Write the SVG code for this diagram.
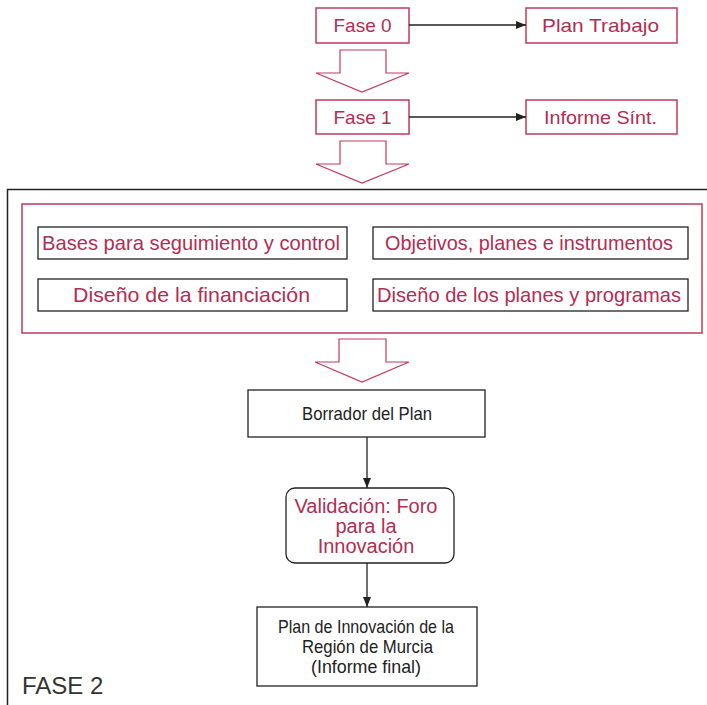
<svg xmlns="http://www.w3.org/2000/svg" width="707" height="705" viewBox="0 0 707 705">
<style>
.pk{fill:#fff;stroke:#c23a5c;stroke-width:1.5}
.bk{fill:#fff;stroke:#222;stroke-width:1.3}
.ba{fill:#fff;stroke:#c23a5c;stroke-width:1.2}
.t1{font-family:"Liberation Sans",Arial,sans-serif;font-size:19px;fill:#b32d52;text-anchor:middle}
.t2{font-family:"Liberation Sans",Arial,sans-serif;font-size:20px;fill:#b32d52;text-anchor:middle}
.tn{font-family:"Liberation Sans",Arial,sans-serif;font-size:21px;fill:#b32d52;text-anchor:middle}
.tb{font-family:"Liberation Sans",Arial,sans-serif;font-size:19px;fill:#222;text-anchor:middle}
.ln{stroke:#222;stroke-width:1.3;fill:none}
</style>
<defs>
<marker id="ah" markerWidth="10" markerHeight="8" refX="10" refY="4" orient="auto" markerUnits="userSpaceOnUse">
<path d="M0,0 L10,4 L0,8 Z" fill="#222"/>
</marker>
</defs>
<rect x="7.5" y="189.5" width="720" height="540" fill="none" stroke="#222" stroke-width="1.5"/>
<rect class="pk" x="22" y="204" width="680" height="129"/>
<g id="fase0"><rect class="pk" x="316" y="8" width="93" height="35"/><text class="t1" x="362.5" y="32">Fase 0</text></g>
<g id="plantrabajo"><rect class="pk" x="526" y="8" width="151" height="35"/><text class="t1" x="600.5" y="32" textLength="117" lengthAdjust="spacingAndGlyphs">Plan Trabajo</text></g>
<g id="fase1"><rect class="pk" x="316" y="100" width="93" height="34"/><text class="t1" x="362.5" y="124">Fase 1</text></g>
<g id="informe"><rect class="pk" x="526" y="100" width="151" height="34"/><text class="t1" x="600.5" y="124" textLength="113" lengthAdjust="spacingAndGlyphs">Informe Sínt.</text></g>
<g id="bases"><rect class="bk" x="38" y="227" width="309" height="32"/><text class="tn" x="191" y="250" textLength="298" lengthAdjust="spacingAndGlyphs">Bases para seguimiento y control</text></g>
<g id="objetivos"><rect class="bk" x="373" y="227" width="315" height="32"/><text class="tn" x="529" y="250" textLength="288" lengthAdjust="spacingAndGlyphs">Objetivos, planes e instrumentos</text></g>
<g id="financiacion"><rect class="bk" x="38" y="279" width="309" height="32"/><text class="tn" x="191.5" y="302" textLength="237" lengthAdjust="spacingAndGlyphs">Diseño de la financiación</text></g>
<g id="planesprog"><rect class="bk" x="373" y="279" width="315" height="32"/><text class="tn" x="529" y="302" textLength="304" lengthAdjust="spacingAndGlyphs">Diseño de los planes y programas</text></g>
<g id="borrador"><rect class="bk" x="248" y="390" width="237" height="47"/><text class="tb" x="367" y="420" textLength="130" lengthAdjust="spacingAndGlyphs">Borrador del Plan</text></g>
<g id="validacion"><rect class="bk" x="286" y="488" width="168" height="75" rx="9"/><text class="t2" x="366" y="513" textLength="143" lengthAdjust="spacingAndGlyphs">Validación: Foro</text><text class="t2" x="366" y="533">para la</text><text class="t2" x="366" y="553">Innovación</text></g>
<g id="planfinal"><rect class="bk" x="257" y="607" width="220" height="79"/><text class="tb" x="366" y="633" textLength="176" lengthAdjust="spacingAndGlyphs">Plan de Innovación de la</text><text class="tb" x="367.5" y="653" textLength="131" lengthAdjust="spacingAndGlyphs">Región de Murcia</text><text class="tb" x="366" y="673" textLength="110" lengthAdjust="spacingAndGlyphs">(Informe final)</text></g>
<text x="22" y="694" style="font-family:'Liberation Sans',Arial,sans-serif;font-size:24px;fill:#333">FASE 2</text>
<g id="connectors">
<line class="ln" x1="409" y1="25" x2="526" y2="25" marker-end="url(#ah)"/>
<line class="ln" x1="409" y1="117" x2="526" y2="117" marker-end="url(#ah)"/>
<line class="ln" x1="367" y1="437" x2="367" y2="488" marker-end="url(#ah)"/>
<line class="ln" x1="367" y1="563" x2="367" y2="607" marker-end="url(#ah)"/>
<polygon class="ba" points="340,50 386,50 386,73 409,73 362,92 316,73 340,73"/>
<polygon class="ba" points="340,141 386,141 386,164 409,164 362,183 316,164 340,164"/>
<polygon class="ba" points="339,339 386,339 386,362 409,362 362,382 315,362 339,362"/>
</g>
</svg>
